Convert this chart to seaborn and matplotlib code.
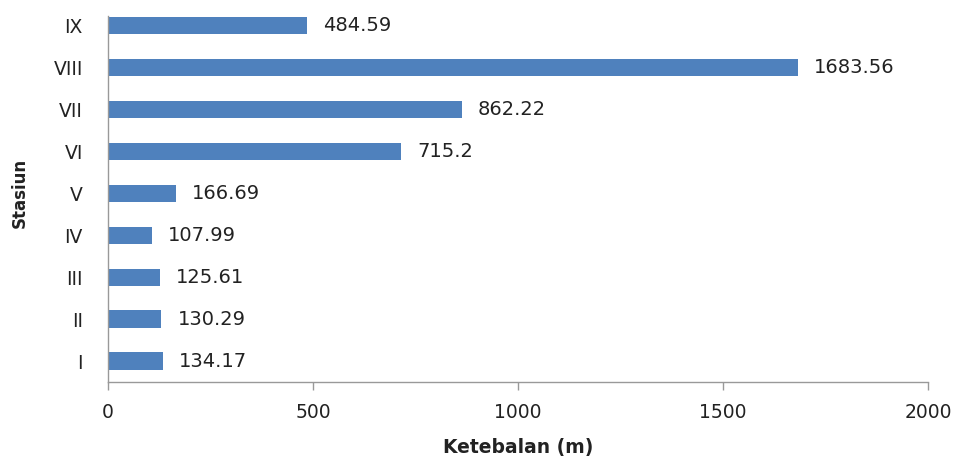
import matplotlib
matplotlib.use('Agg')
import matplotlib.pyplot as plt
import seaborn as sns
import pandas as pd

stasiun = ['IX', 'VIII', 'VII', 'VI', 'V', 'IV', 'III', 'II', 'I']
ketebalan = [484.59, 1683.56, 862.22, 715.2, 166.69, 107.99, 125.61, 130.29, 134.17]
labels = ['484.59', '1683.56', '862.22', '715.2', '166.69', '107.99', '125.61', '130.29', '134.17']

sns.set_style('white')
plt.rcParams['font.family'] = ['DejaVu Sans']

df = pd.DataFrame({'Stasiun': stasiun, 'Ketebalan': ketebalan})

fig = plt.figure(figsize=(9.6, 4.59), dpi=100)
# axes from x=108..928 px, y=4.5..382 px
ax = fig.add_axes([0.1125, 0.1678, 0.8542, 0.8224])

sns.barplot(data=df, x='Ketebalan', y='Stasiun', orient='h', color='#4F81BD',
            saturation=1, width=0.41, linewidth=0, ax=ax)

for i, (v, t) in enumerate(zip(ketebalan, labels)):
    ax.annotate(t, xy=(v, i), xytext=(11.5, 0), textcoords='offset points',
                va='center', ha='left', fontsize=14, color='#222222')

ax.set_xlim(0, 2000)
ax.set_ylim(8.5, -0.5)
ax.set_xticks([0, 500, 1000, 1500, 2000])
ax.tick_params(axis='x', direction='out', length=6, width=1, color='#999999',
               labelsize=13.5, pad=9, labelcolor='#222222', bottom=True)
ax.tick_params(axis='y', length=0, labelsize=13.5, pad=18, labelcolor='#222222')

for s in ['top', 'right']:
    ax.spines[s].set_visible(False)
for s in ['left', 'bottom']:
    ax.spines[s].set_color('#999999')
    ax.spines[s].set_linewidth(1)
ax.spines['left'].set_bounds(8.5, -0.22)

ax.set_xlabel('Ketebalan (m)', fontsize=13.5, fontweight='bold', color='#222222')
ax.set_ylabel('Stasiun', fontsize=12, fontweight='bold', color='#222222')
ax.xaxis.set_label_coords(0.5, -0.148)
ax.yaxis.set_label_coords(-0.097, 0.5)

fig.savefig('out.png', dpi=100)
